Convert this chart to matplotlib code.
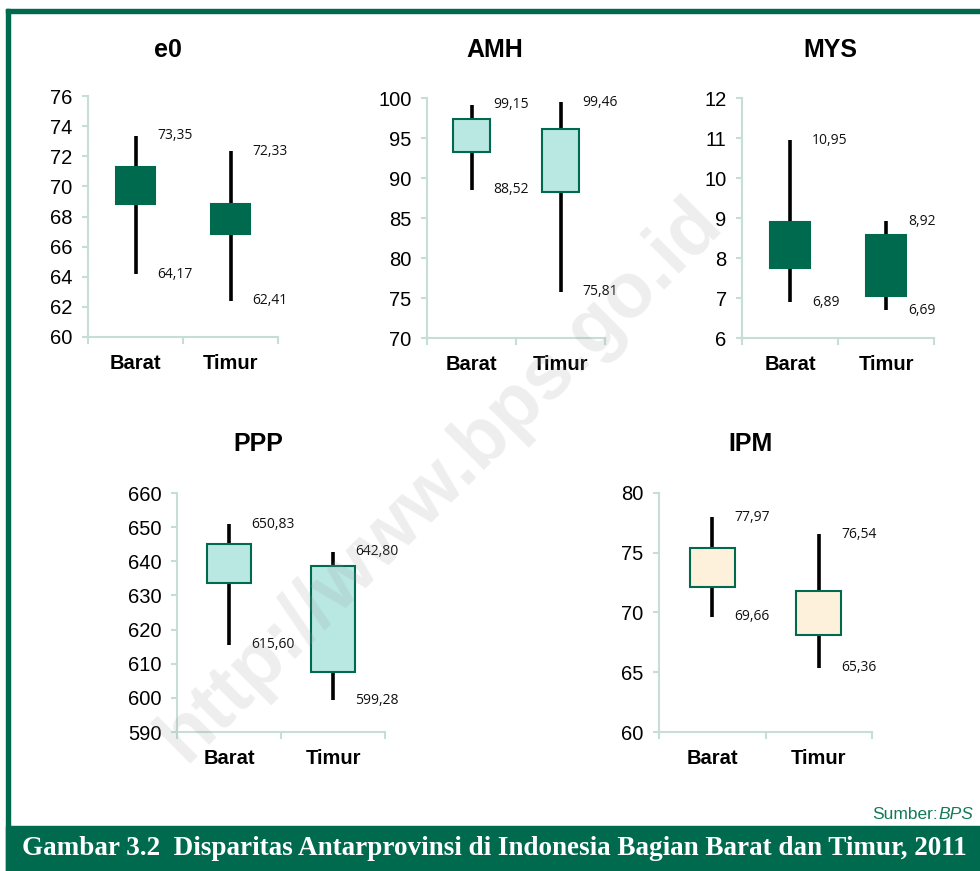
import matplotlib
matplotlib.use("Agg")
import matplotlib.pyplot as plt
import numpy as np

W, H = 980, 871

categories = ["Barat", "Timur"]

e0_high = [73.35, 72.33]
e0_low = [64.17, 62.41]
e0_top = [71.30, 68.83]
e0_bottom = [68.83, 66.82]

amh_high = [99.15, 99.46]
amh_low = [88.52, 75.81]
amh_top = [97.41, 96.16]
amh_bottom = [93.27, 88.22]

mys_high = [10.95, 8.92]
mys_low = [6.89, 6.69]
mys_top = [8.91, 8.57]
mys_bottom = [7.74, 7.06]

ppp_high = [650.83, 642.80]
ppp_low = [615.60, 599.28]
ppp_top = [645.10, 638.65]
ppp_bottom = [633.50, 607.70]

ipm_high = [77.97, 76.54]
ipm_low = [69.66, 65.36]
ipm_top = [75.41, 71.78]
ipm_bottom = [72.17, 68.14]

green = "#006a4e"
cyan = "#b9e7e2"
cream = "#fdf1dc"
spine = "#c6ded4"

fig = plt.figure(figsize=(W / 100, H / 100), dpi=100)


def px_axes(left, right, top, bottom):
    return fig.add_axes([left / W, 1 - bottom / H, (right - left) / W, (bottom - top) / H])


def panel(ax, title, tx, ty, high, low, top, bottom, yticks, face, edge):
    x = np.arange(len(categories)) + 0.5
    ax.vlines(x, low, high, color="black", lw=2.6, zorder=2)
    ax.bar(x, np.array(top) - np.array(bottom), bottom=bottom, width=0.42,
           color=face, edgecolor=edge, linewidth=1.5, zorder=3)
    for xi, hi, lo in zip(x, high, low):
        for v in (hi, lo):
            ax.annotate(f"{v:.2f}".replace(".", ","), (xi, v), xytext=(16, 0),
                        textcoords="offset points", ha="left", va="center",
                        fontsize=10, family="Open Sans", color="#111111")
    ax.set_xlim(0, 2)
    ax.set_ylim(yticks[0], yticks[-1])
    ax.set_yticks(yticks)
    ax.set_xticks(x)
    ax.set_xticklabels(categories, fontsize=14.5, fontweight="bold", family="Liberation Sans")
    ax.set_xticks([0, 1, 2], minor=True)
    ax.tick_params(axis="x", which="major", length=0, pad=12)
    ax.tick_params(axis="x", which="minor", length=5, width=1.5, color=spine)
    ax.tick_params(axis="y", length=4, width=1.5, color=spine, pad=7, labelsize=14.5)
    for lbl in ax.get_yticklabels():
        lbl.set_family("Liberation Sans")
    for s in ("top", "right"):
        ax.spines[s].set_visible(False)
    for s in ("left", "bottom"):
        ax.spines[s].set_color(spine)
        ax.spines[s].set_linewidth(1.5)
    ax.patch.set_alpha(0)
    fig.text(tx / W, 1 - ty / H, title, ha="center", va="center",
             fontsize=18, fontweight="bold", family="Liberation Sans")


ax1 = px_axes(88, 278, 96, 337)
panel(ax1, "e0", 168, 50, e0_high, e0_low, e0_top, e0_bottom,
      np.arange(60, 77, 2), green, green)
ax2 = px_axes(427, 605, 98, 338)
panel(ax2, "AMH", 495, 50, amh_high, amh_low, amh_top, amh_bottom,
      np.arange(70, 101, 5), cyan, green)
ax3 = px_axes(742, 934, 98, 338)
panel(ax3, "MYS", 830, 50, mys_high, mys_low, mys_top, mys_bottom,
      np.arange(6, 13, 1), green, green)
ax4 = px_axes(177, 385, 493, 732)
panel(ax4, "PPP", 258, 444, ppp_high, ppp_low, ppp_top, ppp_bottom,
      np.arange(590, 661, 10), cyan, green)
ax5 = px_axes(659, 872, 493, 732)
panel(ax5, "IPM", 750, 444, ipm_high, ipm_low, ipm_top, ipm_bottom,
      np.arange(60, 81, 5), cream, green)

# frame lines and caption bar
fig.patches.append(plt.Rectangle((6 / W, 1 - 13 / H), 1, 4 / H, transform=fig.transFigure,
                                 color=green, zorder=0))
fig.patches.append(plt.Rectangle((6 / W, 0), 4 / W, 1 - 9 / H, transform=fig.transFigure,
                                 color=green, zorder=0))
fig.patches.append(plt.Rectangle((6 / W, 0), 1, 45 / H, transform=fig.transFigure,
                                 color=green, zorder=0))

fig.text(973 / W, 1 - 814 / H, "Sumber:", ha="right", va="center", fontsize=12.5,
         color="#137a55", family="Liberation Sans")
src = fig.text(973 / W, 1 - 814 / H, "BPS", ha="right", va="center", fontsize=12.5,
               color="#137a55", style="italic", family="Liberation Sans")
fig.canvas.draw()
r = fig.canvas.get_renderer()
bw = src.get_window_extent(r).width
fig.texts[-2].set_position(((973 - bw) / W, 1 - 814 / H))

cap = fig.text(22 / W, 1 - 848 / H,
               "Gambar 3.2  Disparitas Antarprovinsi di Indonesia Bagian Barat dan Timur, 2011",
               ha="left", va="center", fontsize=20, fontweight="bold", color="white",
               family="Liberation Serif")
cw = cap.get_window_extent(r).width
cap.set_fontsize(20 * 946 / cw)

# watermark
fig.text(440 / W, 1 - 480 / H, "http://www.bps.go.id", rotation=45, ha="center", va="center",
         rotation_mode="anchor", fontsize=56, fontweight="bold", color="#9a9a9a", alpha=0.17,
         family="Liberation Sans", zorder=10)

fig.savefig("out.png", dpi=100)
